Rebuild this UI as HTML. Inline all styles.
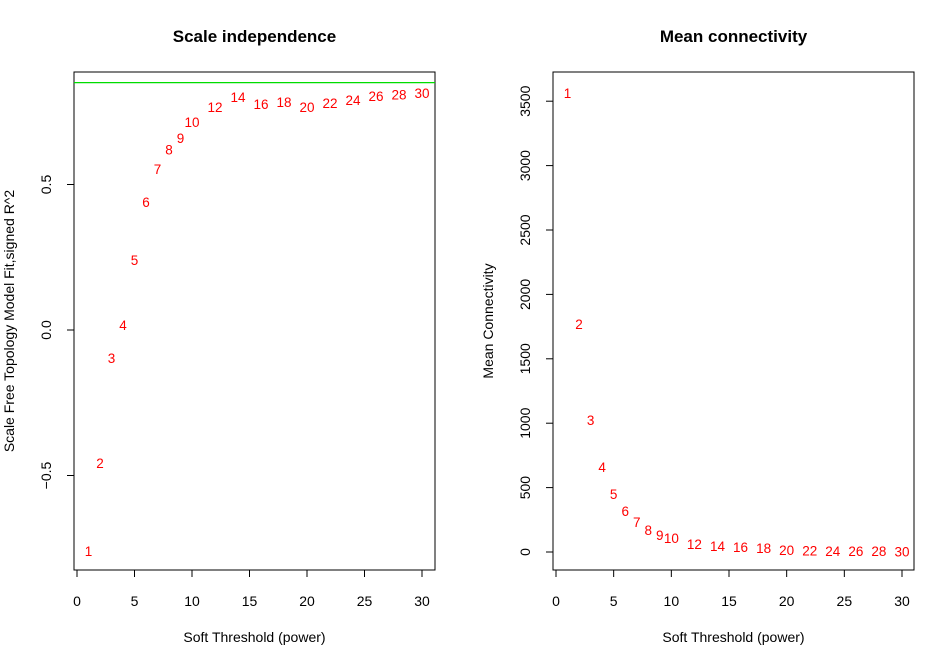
<!DOCTYPE html>
<html><head><meta charset="utf-8"><style>
body{margin:0;background:#fff;}
svg{display:block;font-family:"Liberation Sans",Arial,sans-serif;}
</style></head><body>
<svg id="c" width="934" height="651"></svg>
<script>
const powers=[1,2,3,4,5,6,7,8,9,10,12,14,16,18,20,22,24,26,28,30];
const fitR2=[-0.76,-0.457,-0.096,0.017,0.24,0.44,0.553,0.62,0.66,0.715,0.766,0.80,0.777,0.784,0.766,0.78,0.79,0.804,0.81,0.814];
const meanK=[3564,1770,1025,660,450,318,233,171,132,109,62,47,39,31,16,10,8,7,6,5];
const xTicks=[0,5,10,15,20,25,30];
const yTicksL=[-0.5,0.0,0.5];
const yTickLabelsL=["-0.5","0.0","0.5"];
const yTicksR=[0,500,1000,1500,2000,2500,3000,3500];
const cutoff=0.85;

const NS="http://www.w3.org/2000/svg";
const svg=document.getElementById('c');
function el(t,a,txt){const e=document.createElementNS(NS,t);for(const k in a)e.setAttribute(k,a[k]);if(txt!==undefined)e.textContent=txt;svg.appendChild(e);return e;}

function panel(p){
  const xs=v=>p.x0+(v-0)*(p.x30-p.x0)/30;
  const ys=p.ys;
  let e=el('rect',{x:p.bx,y:72,width:p.bw,height:498,fill:'none',stroke:'#000','stroke-width':1});
  
  e=el('text',{x:p.bx+p.bw/2,y:42,'text-anchor':'middle','font-size':17,'font-weight':'bold'},p.title);
  
  e=el('line',{x1:xs(0),x2:xs(30),y1:570,y2:570,stroke:'#000'});
  
  xTicks.forEach(t=>{
    el('line',{x1:xs(t),x2:xs(t),y1:570,y2:577,stroke:'#000'});
    e=el('text',{x:xs(t),y:606,'text-anchor':'middle','font-size':14},String(t));
    
  });
  e=el('text',{x:p.bx+p.bw/2,y:642,'text-anchor':'middle','font-size':14},'Soft Threshold (power)');
  
  const yt=p.yTicks;
  e=el('line',{x1:p.bx,x2:p.bx,y1:ys(yt[0]),y2:ys(yt[yt.length-1]),stroke:'#000'});
  
  yt.forEach((t,i)=>{
    el('line',{x1:p.bx-7,x2:p.bx,y1:ys(t),y2:ys(t),stroke:'#000'});
    e=el('text',{x:p.bx-23,y:ys(t),'text-anchor':'middle','font-size':14,transform:`rotate(-90 ${p.bx-23} ${ys(t)})`},p.yLabels[i]);
    
  });
  const yc=p.bx-60,ym=321;
  e=el('text',{x:yc,y:ym,'text-anchor':'middle','font-size':14,transform:`rotate(-90 ${yc} ${ym})`},p.ytitle);
  
  return xs;
}
const ysL=v=>330-v*291;
const xsL=panel({id:'scale-independence',bx:74,bw:361,x0:77,x30:422,ys:ysL,yTicks:yTicksL,yLabels:yTickLabelsL.map(s=>s.replace('-','\u2212')),title:'Scale independence',ytitle:'Scale Free Topology Model Fit,signed R^2'});
let g=el('line',{x1:74,x2:435,y1:ysL(cutoff),y2:ysL(cutoff),stroke:'#00dd00','stroke-width':1.3});

powers.forEach((p,i)=>{
  const t=el('text',{x:xsL(p),y:ysL(fitR2[i])+5,'text-anchor':'middle','font-size':13.5,fill:'#ff0000'},String(p));
  
  
});
const ysR=v=>552-v*0.1288;
const xsR=panel({id:'mean-connectivity',bx:553,bw:361,x0:556,x30:902,ys:ysR,yTicks:yTicksR,yLabels:yTicksR.map(String),title:'Mean connectivity',ytitle:'Mean Connectivity'});
powers.forEach((p,i)=>{
  const t=el('text',{x:xsR(p),y:ysR(meanK[i])+5,'text-anchor':'middle','font-size':13.5,fill:'#ff0000'},String(p));
  
  
});
</script>
</body></html>
